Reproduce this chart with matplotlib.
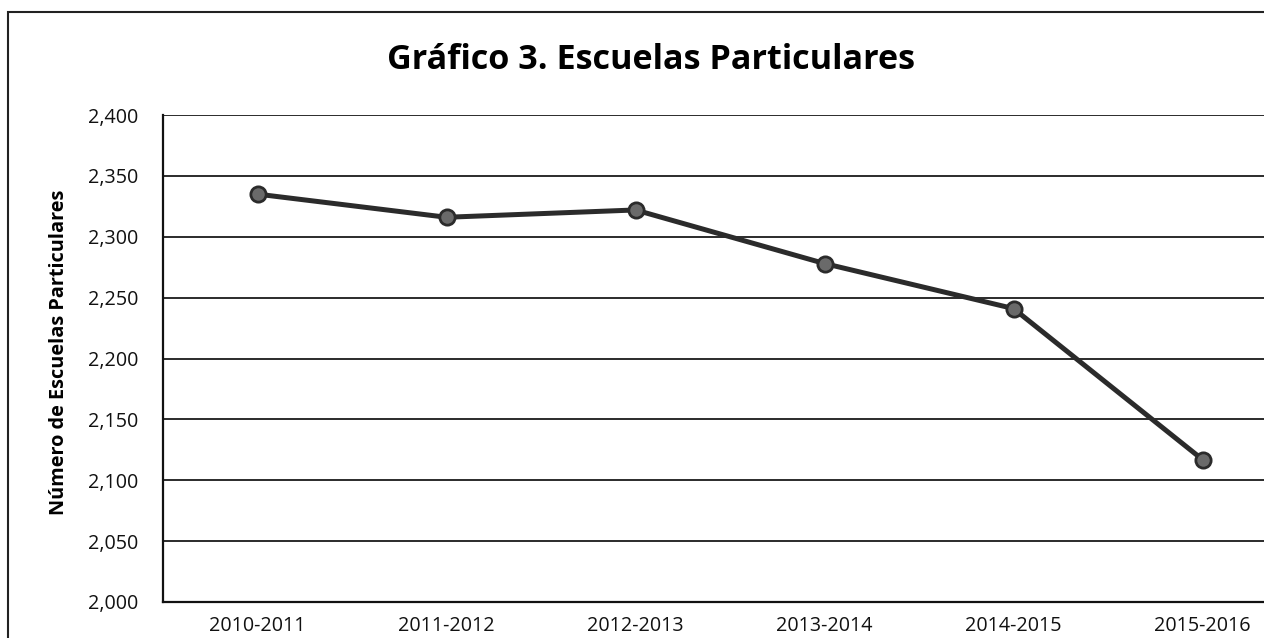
import matplotlib.pyplot as plt
from matplotlib.patches import Rectangle
from matplotlib.ticker import FuncFormatter

# Data
periodos = ["2010-2011", "2011-2012", "2012-2013", "2013-2014", "2014-2015", "2015-2016"]
escuelas = [2335, 2316, 2322, 2278, 2241, 2117]
y_ticks = [2000, 2050, 2100, 2150, 2200, 2250, 2300, 2350, 2400]

plt.rcParams["font.family"] = ["Open Sans", "DejaVu Sans"]

W, H = 1264, 638
fig = plt.figure(figsize=(W / 100, H / 100), dpi=100)
renderer = fig.canvas.get_renderer()


def fit_size(text, width_px, weight="normal"):
    # font size (pt) that makes `text` about width_px wide
    t = fig.text(0, 0, text, fontsize=10, fontweight=weight)
    w = t.get_window_extent(renderer).width
    t.remove()
    return 10 * width_px / w


# plot area: left edge at 163 px, one category = 189 px, right side runs off the page
left_px, top_px, bottom_px, cat_px = 163, 115, 602, 189
ax = fig.add_axes([left_px / W, 1 - bottom_px / H,
                   6 * cat_px / W, (bottom_px - top_px) / H])

x = list(range(len(periodos)))
ax.plot(x, escuelas, color="#2b2b2b", linewidth=3.6, marker="o",
        markersize=11, markerfacecolor="#6a6a6a", markeredgecolor="#2b2b2b",
        markeredgewidth=2, zorder=3)

ax.set_ylim(2000, 2400)
ax.set_xlim(-0.5, 5.5)
ax.set_yticks(y_ticks)
ax.yaxis.set_major_formatter(FuncFormatter(lambda v, p: f"{int(v):,}"))
ax.set_xticks(x)
ax.set_xticklabels(periodos)

tick_fs = fit_size("2010-2011", 97)
ax.tick_params(axis="both", length=0, labelsize=tick_fs, colors="#111111")
ax.tick_params(axis="y", pad=18)
ax.tick_params(axis="x", pad=10)

ax.grid(axis="y", color="#1a1a1a", linewidth=1.3)
ax.set_axisbelow(True)
for side in ["top", "right"]:
    ax.spines[side].set_visible(False)
for side in ["left", "bottom"]:
    ax.spines[side].set_color("#111111")
    ax.spines[side].set_linewidth(1.6)

ylab = "Número de Escuelas Particulares"
ax.set_ylabel(ylab, fontsize=fit_size(ylab, 325, "bold"), fontweight="bold")
ax.yaxis.set_label_coords(69 / W, 1 - 352 / H, transform=fig.transFigure)

title_fs = fit_size("Gráfico 3. E", 188, "bold")
fig.text(387 / W, 1 - 60 / H, "Gráfico 3. Escuelas Particulares", ha="left",
         va="center", fontsize=title_fs, fontweight="bold")

# outer chart frame
fig.patches.append(Rectangle((8 / W, -0.05), 1.2, 1.05 - 12 / H,
                             transform=fig.transFigure, fill=False,
                             edgecolor="#222222", linewidth=1.5))

fig.savefig("out.png", dpi=100)
plt.close(fig)
